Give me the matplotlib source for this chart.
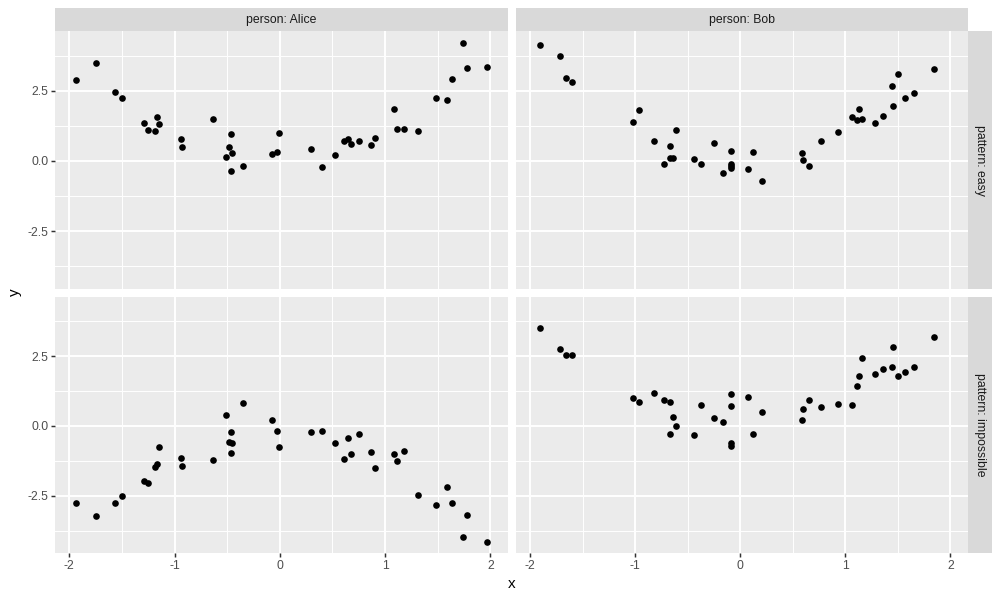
import numpy as np
import matplotlib
matplotlib.use("Agg")
from matplotlib import pyplot as plt
from matplotlib.patches import Rectangle

plt.rcParams["font.family"] = ["Liberation Sans", "DejaVu Sans"]
plt.rcParams["axes.unicode_minus"] = False

# x values are shared between the two patterns for each person
alice_x = [-1.94, -1.75, -1.566, -1.495, -1.29, -1.25, -1.19, -1.17, -1.147, -0.94,
           -0.93, -0.634, -0.51, -0.485, -0.466, -0.46, -0.45, -0.35, -0.07, -0.022,
           -0.007, 0.295, 0.40, 0.52, 0.61, 0.646, 0.68, 0.75, 0.87, 0.90,
           1.08, 1.11, 1.18, 1.31, 1.48, 1.59, 1.635, 1.74, 1.78, 1.97]
alice_easy = [2.88, 3.51, 2.45, 2.25, 1.37, 1.11, 1.08, 1.58, 1.31, 0.80,
              0.50, 1.49, 0.14, 0.51, 0.95, -0.35, 0.30, -0.17, 0.24, 0.31,
              0.99, 0.43, -0.20, 0.21, 0.70, 0.80, 0.59, 0.72, 0.57, 0.83,
              1.87, 1.15, 1.15, 1.08, 2.26, 2.18, 2.94, 4.21, 3.33, 3.34]
alice_impossible = [-2.75, -3.24, -2.77, -2.49, -1.96, -2.05, -1.48, -1.35, -0.74, -1.14,
                    -1.43, -1.23, 0.40, -0.56, -0.21, -0.98, -0.60, 0.81, 0.21, -0.17,
                    -0.77, -0.20, -0.18, -0.62, -1.20, -0.44, -1.00, -0.30, -0.92, -1.50,
                    -1.01, -1.26, -0.89, -2.46, -2.83, -2.19, -2.76, -3.98, -3.20, -4.14]

bob_x = [-1.906, -1.716, -1.66, -1.60, -1.022, -0.968, -0.825, -0.73, -0.67, -0.67,
         -0.64, -0.613, -0.44, -0.375, -0.25, -0.163, -0.084, -0.09, -0.087, -0.087,
         0.072, 0.12, 0.21, 0.585, 0.60, 0.65, 0.77, 0.93, 1.064, 1.108,
         1.13, 1.156, 1.28, 1.355, 1.44, 1.457, 1.50, 1.565, 1.65, 1.84]
bob_easy = [4.15, 3.74, 2.95, 2.83, 1.39, 1.82, 0.70, -0.11, 0.52, 0.12,
            0.11, 1.09, 0.06, -0.10, 0.64, -0.43, 0.37, -0.10, -0.18, -0.26,
            -0.28, 0.31, -0.71, 0.28, 0.04, -0.19, 0.73, 1.05, 1.58, 1.47,
            1.87, 1.50, 1.36, 1.61, 2.68, 1.95, 3.09, 2.26, 2.41, 3.30]
bob_impossible = [3.50, 2.77, 2.55, 2.55, 1.00, 0.86, 1.17, 0.93, 0.85, -0.29,
                  0.32, 0.00, -0.32, 0.74, 0.29, 0.13, 0.73, -0.60, 1.15, -0.71,
                  1.04, -0.30, 0.49, 0.21, 0.62, 0.93, 0.69, 0.79, 0.74, 1.43,
                  1.80, 2.43, 1.86, 2.04, 2.13, 2.83, 1.78, 1.93, 2.10, 3.19]

persons = ["Alice", "Bob"]
patterns = ["easy", "impossible"]
x_ticks = [-2, -1, 0, 1, 2]
y_ticks = [-2.5, 0.0, 2.5]
y_ticklabels = ["-2.5", "0.0", "2.5"]

panel_data = {
    ("Alice", "easy"): (alice_x, alice_easy),
    ("Alice", "impossible"): (alice_x, alice_impossible),
    ("Bob", "easy"): (bob_x, bob_easy),
    ("Bob", "impossible"): (bob_x, bob_impossible),
}

W, H = 1000, 600
fig = plt.figure(figsize=(10, 6), dpi=100)

def px_box(x0, y0, x1, y1):
    # pixel box (top-left origin) -> figure fraction
    return [x0 / W, 1 - y1 / H, (x1 - x0) / W, (y1 - y0) / H]

col_px = [(55, 508), (516, 968)]
row_px = [(31.3, 288.7), (296.7, 553.3)]
xlim = (-2.135, 2.167)
ylim = (-4.56, 4.63)

for j, person in enumerate(persons):
    for i, pattern in enumerate(patterns):
        x0, x1 = col_px[j]
        y0, y1 = row_px[i]
        ax = fig.add_axes(px_box(x0, y0, x1, y1))
        ax.set_facecolor("#EBEBEB")
        for s in ax.spines.values():
            s.set_visible(False)
        ax.set_xlim(xlim)
        ax.set_ylim(ylim)
        ax.set_xticks(x_ticks)
        ax.set_xticks(np.array(x_ticks[:-1]) + 0.5, minor=True)
        ax.set_yticks(y_ticks)
        ax.set_yticks([-3.75, -1.25, 1.25, 3.75], minor=True)
        ax.grid(which="major", color="white", linewidth=1.42)
        ax.grid(which="minor", color="white", linewidth=0.71)
        ax.set_axisbelow(True)
        ax.tick_params(which="minor", length=0)
        ax.tick_params(which="major", length=2.75, width=1.07, color="#333333",
                       labelcolor="#4D4D4D", labelsize=8.8, pad=2.2)
        if i == 1:
            ax.set_xticklabels([str(t) for t in x_ticks])
        else:
            ax.tick_params(axis="x", length=0, labelbottom=False)
        if j == 0:
            ax.set_yticklabels(y_ticklabels)
        else:
            ax.tick_params(axis="y", length=0, labelleft=False)

        xs, ys = panel_data[(person, pattern)]
        ax.scatter(xs, ys, s=23, color="black", linewidths=0, zorder=3)

# strips on top (person) and right (pattern)
for j, person in enumerate(persons):
    x0, x1 = col_px[j]
    fig.patches.append(Rectangle((x0 / W, 1 - 31.3 / H), (x1 - x0) / W, (31.3 - 8) / H,
                                 transform=fig.transFigure, color="#D9D9D9", lw=0))
    fig.text((x0 + x1) / 2 / W, 1 - 19.6 / H, "person: " + person,
             ha="center", va="center", fontsize=8.8, color="#1A1A1A")

for i, pattern in enumerate(patterns):
    y0, y1 = row_px[i]
    fig.patches.append(Rectangle((968.3 / W, 1 - y1 / H), (991.7 - 968.3) / W, (y1 - y0) / H,
                                 transform=fig.transFigure, color="#D9D9D9", lw=0))
    fig.text(980 / W, 1 - (y0 + y1) / 2 / H, "pattern: " + pattern, rotation=-90,
             ha="center", va="center", fontsize=8.8, color="#1A1A1A")

# axis titles
fig.text(511.5 / W, 1 - 584 / H, "x", ha="center", va="center", fontsize=11, color="black")
fig.text(15 / W, 1 - 292 / H, "y", ha="center", va="center", rotation=90, fontsize=11, color="black")

plt.savefig("out.png", dpi=100)
